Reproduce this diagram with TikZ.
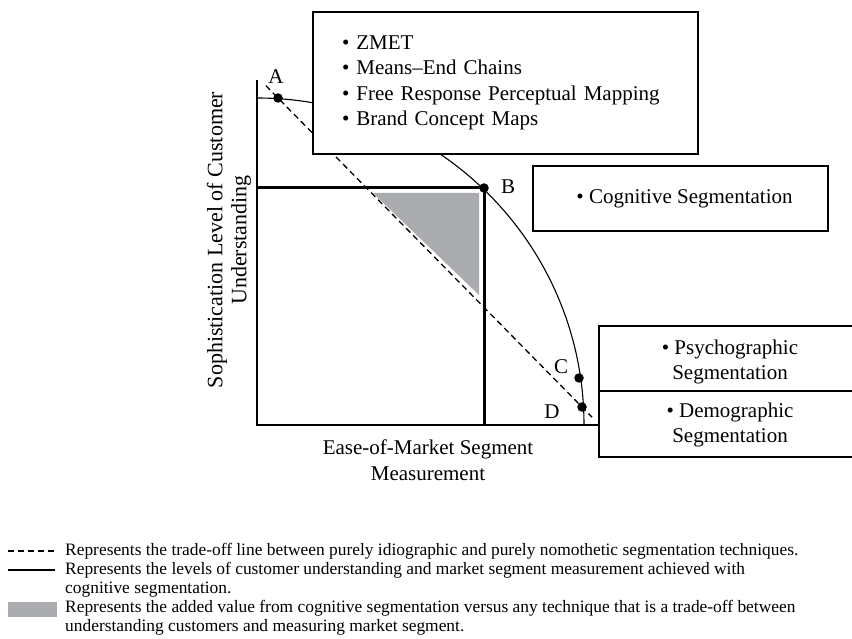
\documentclass[tikz,border=0pt]{standalone}
\usepackage{fontspec}
\setmainfont{Liberation Serif}
\usetikzlibrary{calc}
\definecolor{valuegray}{HTML}{ABACAF}

\begin{document}
\begin{tikzpicture}[x=1pt,y=-1pt,
		every node/.style={inner sep=0pt},
		mainfont/.style={font=\fontsize{21}{25.5}\selectfont},
		legfont/.style={font=\fontsize{17.4}{19}\selectfont},
		techbox/.style={draw, line width=1.2pt, fill=white, mainfont},
		dot/.style={circle, fill=black, minimum size=9.5pt},
		tradeoff/.style={dash pattern=on 6pt off 4pt, line width=1.3pt},
		achieved/.style={line width=3pt}]
	\useasboundingbox (0,0) rectangle (852,639);
	\pgfmathsetmacro{\R}{327}
	% axes
	\coordinate (O) at (257,425);
	\coordinate (ytop) at (257,80);
	\coordinate (xend) at (599,425);
	\draw[line width=1.2pt] (ytop) -- (O) -- (xend);
	% frontier
	\draw[line width=1.1pt] ($(O)+(0,-\R)$) arc[start angle=-90, end angle=0, radius=\R];
	% added value of cognitive segmentation
	\fill[valuegray] (373,193) -- (479,193) -- (479,295) -- cycle;
	% points on the frontier
	\coordinate (A) at (278,98);
	\coordinate (B) at (484,188);
	\coordinate (C) at (579,378);
	\coordinate (D) at (582,407);
	\draw[tradeoff] ($(A)!-0.04!(D)$) -- ($(D)!-0.033!(A)$);
	\draw[achieved] (O |- B) -- (B) -- (B |- O);
	\foreach \p in {A,B,C,D}
		\node[dot] (dot\p) at (\p) {};
	\node[mainfont] (labA) at (276,77) {A};
	\node[mainfont] (labB) at (508,187) {B};
	\node[mainfont] (labC) at (561,367) {C};
	\node[mainfont] (labD) at (552,412) {D};
	% technique boxes
	\node[techbox, minimum width=385pt, minimum height=142pt, text width=327pt,
		inner xsep=29pt, align=left] (tech) at (505.5,83)
		{\textbullet\ ZMET\\ \textbullet\ Means--End Chains\\
		 \textbullet\ Free Response Perceptual Mapping\\ \textbullet\ Brand Concept Maps};
	\node[techbox, minimum width=295pt, minimum height=65pt] (cog) at (680.5,198.5)
		{\hspace*{8pt}\textbullet\ Cognitive Segmentation};
	\coordinate (st) at (599,326);
	\coordinate (sm) at (599,391);
	\coordinate (sb) at (599,457);
	\draw[line width=1.2pt] (st -| 852,0) -- (st) -- (sb) -- (sb -| 852,0);
	\draw[line width=1.2pt] (sm) -- (sm -| 852,0);
	\node[mainfont, align=center] (psych) at (730,362) {\textbullet\ Psychographic\\Segmentation};
	\node[mainfont, align=center] (demo) at (730,425) {\textbullet\ Demographic\\Segmentation};
	% axis titles
	\node[mainfont, align=center] (xlab) at (428,460) {Ease-of-Market Segment\\Measurement};
	\node[font=\fontsize{22}{24}\selectfont, align=center, rotate=90] (ylab) at (229,240)
		{Sophistication Level of Customer\\Understanding};
	% legend
	\draw[tradeoff] (8,551) -- (57,551);
	\draw[line width=2pt] (8,570) -- (55,570);
	\fill[valuegray] (8,602) rectangle (57,617);
	\node[legfont, anchor=north west, align=left] (leg1) at (65,543.2)
		{Represents the trade-off line between purely idiographic and purely nomothetic segmentation techniques.};
	\node[legfont, anchor=north west, align=left] (leg2) at (65,562.2)
		{Represents the levels of customer understanding and market segment measurement achieved with\\
		 cognitive segmentation.};
	\node[legfont, anchor=north west, align=left] (leg3) at (65,600.2)
		{Represents the added value from cognitive segmentation versus any technique that is a trade-off between\\
		 understanding customers and measuring market segment.};
\end{tikzpicture}
\end{document}
